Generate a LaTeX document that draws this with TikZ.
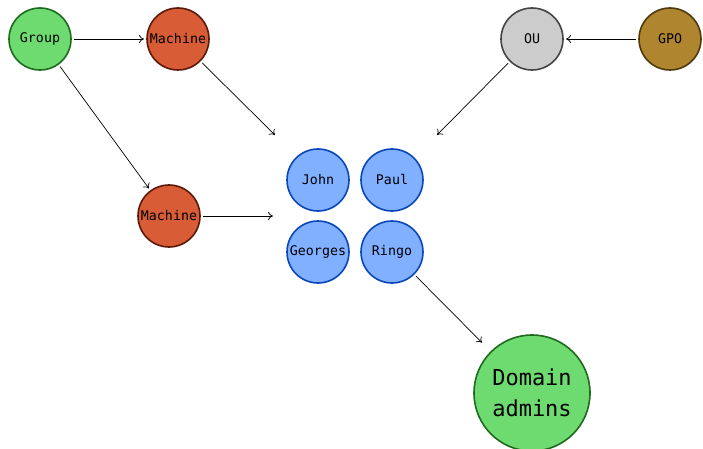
\documentclass[tikz,border=0pt]{standalone}
\usepackage{fontspec}
\setmonofont{DejaVu Sans Mono}
\usetikzlibrary{arrows.meta,positioning}
\definecolor{groupfill}{HTML}{6EDB70}
\definecolor{groupline}{HTML}{1E6B1E}
\definecolor{machfill}{HTML}{D85C35}
\definecolor{machline}{HTML}{5C1A0A}
\definecolor{oufill}{HTML}{CCCCCC}
\definecolor{ouline}{HTML}{444444}
\definecolor{gpofill}{HTML}{B0852F}
\definecolor{gpoline}{HTML}{4D3A0E}
\definecolor{userfill}{HTML}{80B0FF}
\definecolor{userline}{HTML}{0A47BB}

\begin{document}
\begin{tikzpicture}[x=1pt, y=-1pt,
  obj/.style={circle, draw, line width=1.6pt, minimum size=62pt, inner sep=0pt,
    outer sep=3pt, font=\ttfamily\fontsize{13.3}{15}\selectfont},
  grp/.style={obj, fill=groupfill, draw=groupline},
  mach/.style={obj, fill=machfill, draw=machline},
  ou/.style={obj, fill=oufill, draw=ouline},
  gpo/.style={obj, fill=gpofill, draw=gpoline},
  user/.style={obj, fill=userfill, draw=userline},
  link/.style={-{To[length=5pt,width=8pt]}, line width=0.7pt}]
\useasboundingbox (0,0) rectangle (703,449);

% sources
\node[grp] (group) at (40,39) {Group};
\node[mach] (mach1) at (178,39) {Machine};
\node[mach] (mach2) at (169,216) {Machine};
\node[ou] (ou) at (532,39) {OU};
\node[gpo] (gpo) at (670,39) {GPO};

% users
\node[user] (john) at (318,180) {John};
\node[user] (paul) at (392,180) {Paul};
\node[user] (georges) at (318,252) {Georges};
\node[user] (ringo) at (392,252) {Ringo};

% target
\node[grp, minimum size=116pt, font=\ttfamily\fontsize{22}{31}\selectfont, align=center]
  (admins) at (532,393) {Domain\\admins};

\coordinate (in1) at (275,135);
\coordinate (in2) at (273,216);
\coordinate (in3) at (437,135);

\draw[link] (group) -- (mach1);
\draw[link] (group) -- (mach2);
\draw[link] (mach1) -- (in1);
\draw[link] (mach2) -- (in2);
\draw[link] (gpo) -- (ou);
\draw[link] (ou) -- (in3);
\draw[link, shorten >=10pt] (ringo) -- (admins);
\end{tikzpicture}
\end{document}
